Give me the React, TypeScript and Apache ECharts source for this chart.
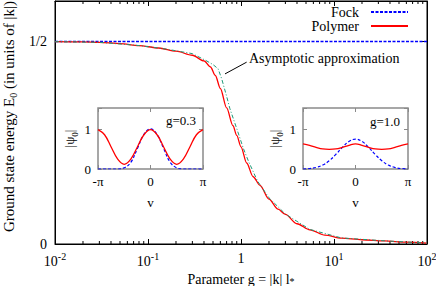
import React, { useEffect, useRef } from 'react';
import * as echarts from 'echarts';

const FONT = '"Liberation Serif", "Times New Roman", serif';

// Main panel: ground state energy vs parameter g (log axis)
const gFock = [0.01, 100];
const eFock = [0.5, 0.5];

const gPolymer = [0.01, 0.02, 0.03, 0.05, 0.08, 0.13, 0.2, 0.3, 0.4, 0.47, 0.53, 0.6, 0.7, 0.82, 0.9, 1.0, 1.15, 1.35, 1.6, 2.0, 2.5, 3.0, 4.0, 5.5, 8.0, 12, 20, 35, 60, 100];
const ePolymer = [0.4995, 0.499, 0.498, 0.495, 0.49, 0.484, 0.476, 0.466, 0.452, 0.437, 0.416, 0.384, 0.336, 0.292, 0.268, 0.24, 0.2, 0.166, 0.145, 0.111, 0.086, 0.073, 0.05, 0.035, 0.022, 0.0145, 0.0105, 0.0075, 0.0045, 0.0022];

const gAsym = [0.01, 0.03, 0.08, 0.15, 0.22, 0.3, 0.42, 0.5, 0.567, 0.62, 0.7, 0.76, 0.9, 1.06, 1.2, 1.5, 2.0, 3.0, 5.5, 12, 35, 100];
const eAsym = [0.4995, 0.498, 0.49, 0.482, 0.4755, 0.47, 0.453, 0.443, 0.4327, 0.408, 0.365, 0.334, 0.285, 0.236, 0.205, 0.156, 0.114, 0.074, 0.036, 0.015, 0.0078, 0.0023];

const xMinorTicks = [0.02, 0.03, 0.04, 0.05, 0.06, 0.07, 0.08, 0.09, 0.2, 0.3, 0.4, 0.5, 0.6, 0.7, 0.8, 0.9, 2, 3, 4, 5, 6, 7, 8, 9, 20, 30, 40, 50, 60, 70, 80, 90];

// arrow from label to the kink of the asymptotic curve
const arrowFrom = [1.15, 0.449];
const arrowTo = [0.673, 0.42];

// Insets: wave functions |psi0| vs v
const vValues = [-3.1416, -2.7489, -2.3562, -1.9635, -1.5708, -1.1781, -0.7854, -0.3927, 0, 0.3927, 0.7854, 1.1781, 1.5708, 1.9635, 2.3562, 2.7489, 3.1416];
const psiFock03 = [0, 0, 0, 0, 0.03, 0.17, 0.52, 0.88, 1.02, 0.88, 0.52, 0.17, 0.03, 0, 0, 0, 0];
const psiPoly03 = [1.0, 0.87, 0.56, 0.25, 0.12, 0.25, 0.56, 0.87, 1.0, 0.87, 0.56, 0.25, 0.12, 0.25, 0.56, 0.87, 1.0];
const psiFock10 = [0, 0.01, 0.04, 0.1, 0.21, 0.37, 0.55, 0.7, 0.76, 0.7, 0.55, 0.37, 0.21, 0.1, 0.04, 0.01, 0];
const psiPoly10 = [0.64, 0.6, 0.55, 0.51, 0.5, 0.51, 0.55, 0.6, 0.64, 0.6, 0.55, 0.51, 0.5, 0.51, 0.55, 0.6, 0.64];

const zip = (a: number[], b: number[]) => a.map((x, i) => [x, b[i]]);

export default function App() {
  const ref = useRef<HTMLDivElement>(null);
  useEffect(() => {
    if (!ref.current) return;
    const chart = echarts.init(ref.current, undefined, { renderer: 'svg' });

    const txt = { fontFamily: FONT, fontSize: 14, color: '#000' };
    const gray = '#8a8a8a';

    const insetGrid = (left: number) => ({
      left, top: 108, width: 105, height: 61, show: true, containLabel: false, outerBoundsMode: 'none',
      borderColor: gray, borderWidth: 1.5, backgroundColor: '#fff',
    });
    const insetX = (gi: number, bottom: boolean) => ({
      type: 'value', gridIndex: gi, min: -Math.PI, max: Math.PI, interval: Math.PI,
      position: bottom ? 'bottom' : 'top',
      name: bottom ? 'v' : '', nameLocation: 'middle', nameGap: 27,
      nameTextStyle: { ...txt, fontSize: 13 },
      axisLine: { show: false, onZero: false },
      axisTick: { show: true, inside: true, length: 4, lineStyle: { color: gray, width: 1 } },
      axisLabel: bottom ? {
        ...txt, fontSize: 13, margin: 6,
        formatter: (v: number) => (v < -1 ? '-π' : v > 1 ? 'π' : '0'),
      } : { show: false },
      splitLine: { show: false },
    });
    const insetY = (gi: number, left: boolean) => ({
      type: 'value', gridIndex: gi, min: 0, max: 1.55, interval: 1,
      position: left ? 'left' : 'right',
      name: left ? '{a||ψ}{u|0}{a||}' : '', nameLocation: 'middle', nameGap: 19,
      nameTextStyle: {
        rich: {
          a: { ...txt, fontSize: 13, verticalAlign: 'bottom', padding: [0, 0, 3, 0] },
          u: { ...txt, fontSize: 9, verticalAlign: 'bottom' },
        },
      },
      axisLine: { show: false, onZero: false },
      axisTick: { show: true, inside: true, length: 4, lineStyle: { color: gray, width: 1 } },
      axisLabel: left ? {
        ...txt, fontSize: 13, margin: 7,
        formatter: (v: number) => (v === 0 ? '0' : v === 1 ? '1' : ''),
      } : { show: false },
      splitLine: { show: false },
    });

    const mainX = (top: boolean) => ({
      type: 'log', logBase: 10, gridIndex: 0, min: 0.01, max: 100,
      position: top ? 'top' : 'bottom',
      name: top ? '' : '{a|Parameter g = |k| l}{u|*}',
      nameLocation: 'middle', nameGap: 23,
      nameTextStyle: {
        rich: {
          a: { ...txt, verticalAlign: 'bottom' },
          u: { ...txt, fontSize: 10, lineHeight: 9, verticalAlign: 'bottom' },
        },
      },
      axisLine: { show: true, onZero: false, lineStyle: { color: '#000', width: 1 } },
      axisTick: { show: true, inside: true, length: 5, lineStyle: { color: '#000', width: 1 } },
      minorTick: { show: false },
      axisLabel: top ? { show: false } : {
        margin: 7,
        formatter: (v: number) => {
          const e = Math.round(Math.log10(v));
          return e === 0 ? '{b|1}' : `{b|10}{s|${e}}`;
        },
        rich: {
          b: { ...txt, verticalAlign: 'bottom' },
          s: { ...txt, fontSize: 10, verticalAlign: 'bottom', padding: [0, 0, 7, 0] },
        },
      },
      splitLine: { show: false },
    });
    const mainY = (left: boolean) => ({
      type: 'value', gridIndex: 0, min: 0, max: 0.6, interval: 0.5,
      position: left ? 'left' : 'right',
      name: left ? '{a|Ground state energy E}{u|0}{a| (in units of |k|)}' : '',
      nameLocation: 'middle', nameGap: 36,
      nameTextStyle: {
        padding: [0, 0, 0, 12],
        rich: {
          a: { ...txt, fontSize: 15, verticalAlign: 'bottom', padding: [0, 0, 2, 0] },
          u: { ...txt, fontSize: 10, verticalAlign: 'bottom' },
        },
      },
      axisLine: { show: true, onZero: false, lineStyle: { color: '#000', width: 1 } },
      axisTick: { show: true, inside: true, length: 5, lineStyle: { color: '#000', width: 1 } },
      axisLabel: left ? {
        ...txt, margin: 8,
        formatter: (v: number) => (Math.abs(v - 0.5) < 1e-6 ? '1/2' : v === 0 ? '0' : ''),
      } : { show: false },
      splitLine: { show: false },
    });

    const option: any = {
      animation: false,
      backgroundColor: '#fff',
      grid: [
        { left: 55, right: 9, top: 1, bottom: 42, show: true, containLabel: false, outerBoundsMode: 'none', borderColor: '#000', borderWidth: 1 },
        insetGrid(98),
        insetGrid(303),
      ],
      xAxis: [mainX(false), mainX(true), insetX(1, true), insetX(1, false), insetX(2, true), insetX(2, false)],
      yAxis: [mainY(true), mainY(false), insetY(1, true), insetY(1, false), insetY(2, true), insetY(2, false)],
      legend: {
        data: ['Fock', 'Polymer'], orient: 'vertical', right: 27, top: 5, padding: 0,
        align: 'right', itemWidth: 37, itemHeight: 10, itemGap: 0,
        itemStyle: { opacity: 0 },
        textStyle: { ...txt, lineHeight: 13.3, padding: [0, 7, 0, 0] },
      },
      series: [
        {
          name: 'Fock', type: 'line', xAxisIndex: 0, yAxisIndex: 0, symbol: 'none', z: 3,
          data: zip(gFock, eFock),
          lineStyle: { color: '#0000ff', width: 1.5, type: [3, 1.5] }, itemStyle: { color: '#0000ff' },
          markLine: {
            silent: true, symbol: ['none', 'arrow'], symbolSize: [0, 7],
            label: { show: false },
            lineStyle: { color: '#000', width: 1, type: 'solid' },
            data: [[{ coord: arrowFrom }, { coord: arrowTo }]],
          },
        },
        {
          name: 'Polymer', type: 'line', xAxisIndex: 0, yAxisIndex: 0, symbol: 'none',
          smooth: 0.3, smoothMonotone: 'x',
          data: zip(gPolymer, ePolymer),
          lineStyle: { color: '#ff0000', width: 1.3 }, itemStyle: { color: '#ff0000' },
        },
        {
          name: 'Asymptotic', type: 'line', xAxisIndex: 0, yAxisIndex: 0, symbol: 'none',
          data: zip(gAsym, eAsym),
          lineStyle: { color: '#1f9a78', width: 1, type: [4, 2, 1, 2] }, itemStyle: { color: '#1f9a78' },
        },
        {
          type: 'custom', xAxisIndex: 0, yAxisIndex: 0, silent: true, clip: false,
          data: xMinorTicks.map((v) => [v, 0]),
          renderItem: (params: any, api: any) => {
            const x = api.coord([api.value(0), 0.1])[0];
            const cs = params.coordSys;
            const b = cs.y + cs.height;
            return {
              type: 'group',
              children: [
                { type: 'line', shape: { x1: x, y1: b, x2: x, y2: b - 3 }, style: { stroke: '#000', lineWidth: 1 } },
                { type: 'line', shape: { x1: x, y1: cs.y, x2: x, y2: cs.y + 3 }, style: { stroke: '#000', lineWidth: 1 } },
              ],
            };
          },
        },
        {
          name: 'Fock g=0.3', type: 'line', xAxisIndex: 2, yAxisIndex: 2, symbol: 'none', smooth: 0.4,
          data: zip(vValues, psiFock03),
          lineStyle: { color: '#0000ff', width: 1.2, type: [3, 2] },
        },
        {
          name: 'Polymer g=0.3', type: 'line', xAxisIndex: 2, yAxisIndex: 2, symbol: 'none', smooth: 0.4,
          data: zip(vValues, psiPoly03),
          lineStyle: { color: '#ff0000', width: 1.3 },
        },
        {
          name: 'Fock g=1.0', type: 'line', xAxisIndex: 4, yAxisIndex: 4, symbol: 'none', smooth: 0.4,
          data: zip(vValues, psiFock10),
          lineStyle: { color: '#0000ff', width: 1.2, type: [3, 2] },
        },
        {
          name: 'Polymer g=1.0', type: 'line', xAxisIndex: 4, yAxisIndex: 4, symbol: 'none', smooth: 0.4,
          data: zip(vValues, psiPoly10),
          lineStyle: { color: '#ff0000', width: 1.3 },
        },
      ],
      graphic: [
        { type: 'text', x: 249, y: 58, style: { text: 'Asymptotic approximation', font: `14px ${FONT}`, fill: '#000', verticalAlign: 'middle', align: 'left' } },
        { type: 'text', x: 196, y: 120, z: 10, style: { text: 'g=0.3', font: `13px ${FONT}`, fill: '#000', verticalAlign: 'middle', align: 'right' } },
        { type: 'text', x: 400, y: 121, z: 10, style: { text: 'g=1.0', font: `13px ${FONT}`, fill: '#000', verticalAlign: 'middle', align: 'right' } },
      ],
    };
    chart.setOption(option);
    return () => chart.dispose();
  }, []);
  return <div ref={ref} style={{ position: 'absolute', left: 0, top: 0, width: 436, height: 286 }} />;
}
